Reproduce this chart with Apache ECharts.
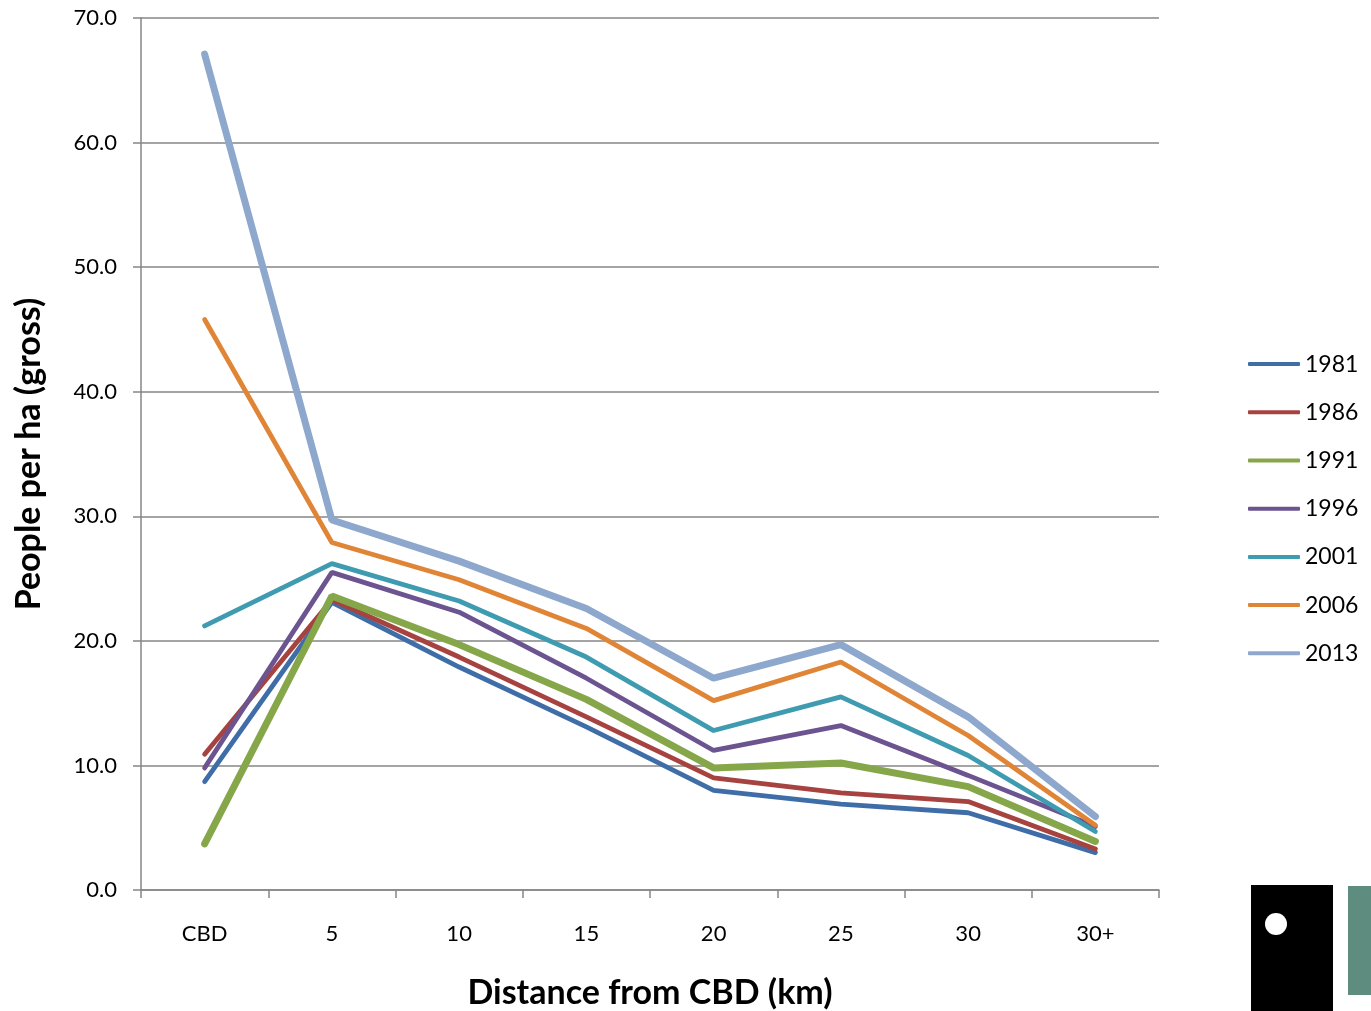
<!DOCTYPE html>
<html>
<head>
<meta charset="utf-8">
<script src="https://cdn.jsdelivr.net/npm/echarts@6/dist/echarts.min.js"></script>
<style>
  html, body { margin: 0; padding: 0; background: #fff; }
  #main { width: 1371px; height: 1011px; }
</style>
</head>
<body>
<div id="main"></div>
<script>
// distance bands and density by census year
var bands = ['CBD', '5', '10', '15', '20', '25', '30', '30+'];
var years = ['1981', '1986', '1991', '1996', '2001', '2006', '2013'];
var d1981 = [8.7, 23.1, 17.9, 13.1, 8.0, 6.9, 6.2, 3.0];
var d1986 = [10.9, 23.3, 18.7, 13.9, 9.0, 7.8, 7.1, 3.3];
var d1991 = [3.7, 23.6, 19.7, 15.3, 9.8, 10.2, 8.3, 3.9];
var d1996 = [9.8, 25.5, 22.3, 17.0, 11.2, 13.2, 9.2, 5.1];
var d2001 = [21.2, 26.2, 23.2, 18.7, 12.8, 15.5, 10.8, 4.7];
var d2006 = [45.8, 27.9, 24.9, 21.0, 15.2, 18.3, 12.4, 5.2];
var d2013 = [67.1, 29.7, 26.4, 22.6, 17.0, 19.7, 13.9, 5.9];
var yTicks = [0, 10, 20, 30, 40, 50, 60, 70];

var colors = ['#3f6da7', '#a6423f', '#86a64a', '#6b5490', '#3f9bb0', '#e08436', '#8ea8cd'];
var widths = [4.8, 4.8, 7, 4.8, 4.8, 4.8, 7];
var allData = [d1981, d1986, d1991, d1996, d2001, d2006, d2013];

var mychart = echarts.init(document.getElementById('main'));

var series = years.map(function (y, i) {
    return {
        name: y,
        type: 'line',
        data: allData[i],
        showSymbol: false,
        symbol: 'none',
        lineStyle: { color: colors[i], width: widths[i], cap: 'round' },
        itemStyle: { color: colors[i] },
        z: 2 + i
    };
});

var option = {
    animation: false,
    textStyle: { fontFamily: 'Lato' },
    grid: { left: 141, right: 212, top: 18, bottom: 121, outerBoundsMode: 'none', containLabel: false },
    legend: {
        orient: 'vertical',
        left: 1248,
        top: 352,
        padding: 0,
        itemWidth: 52,
        itemHeight: 4,
        itemGap: 24,
        icon: 'roundRect',
        textStyle: { fontSize: 23, color: '#000', lineHeight: 24.2 },
        data: years
    },
    xAxis: {
        type: 'category',
        boundaryGap: true,
        data: bands,
        name: 'Distance from CBD (km)',
        nameLocation: 'middle',
        nameGap: 86,
        nameTextStyle: { fontSize: 34, fontWeight: 'bold', color: '#000' },
        axisLine: { lineStyle: { color: '#868686', width: 1.5 } },
        axisTick: { show: true, length: 8, lineStyle: { color: '#868686', width: 1.5 } },
        axisLabel: { fontSize: 22, color: '#000', margin: 33 }
    },
    yAxis: {
        type: 'value',
        min: 0,
        max: 70,
        interval: 10,
        name: 'People per ha (gross)',
        nameLocation: 'middle',
        nameGap: 95,
        nameTextStyle: { fontSize: 34, fontWeight: 'bold', color: '#000' },
        axisLine: { show: true, lineStyle: { color: '#868686', width: 1.5 } },
        axisTick: { show: true, length: 8, lineStyle: { color: '#868686', width: 1.5 } },
        axisLabel: {
            fontSize: 22, color: '#000', margin: 24,
            formatter: function (v) { return yTicks.indexOf(v) >= 0 ? v.toFixed(1) : ''; }
        },
        splitLine: { lineStyle: { color: '#868686', width: 1.5 } }
    },
    graphic: [
        { type: 'rect', shape: { x: 1251, y: 885, width: 82, height: 126 }, style: { fill: '#000' } },
        { type: 'circle', shape: { cx: 1276, cy: 924, r: 11 }, style: { fill: '#fff' } },
        { type: 'rect', shape: { x: 1348, y: 886, width: 23, height: 109 }, style: { fill: '#5e8c7f' } }
    ],
    series: series
};

mychart.setOption(option);
</script>
</body>
</html>
